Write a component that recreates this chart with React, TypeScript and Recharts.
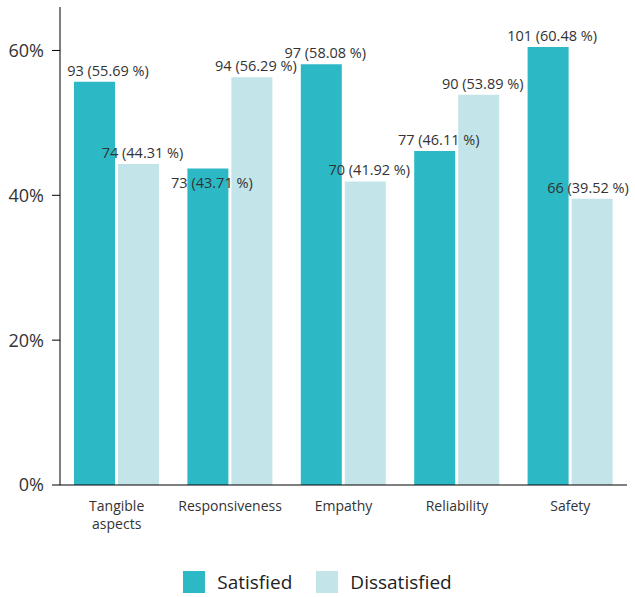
import React from "react";
import {
  BarChart,
  Bar,
  XAxis,
  YAxis,
  Legend,
  LabelList,
  Text
} from "recharts";

const categories = ["Tangible aspects", "Responsiveness", "Empathy", "Reliability", "Safety"];
const satisfiedCount = [93, 73, 97, 77, 101];
const satisfiedPct = [55.69, 43.71, 58.08, 46.11, 60.48];
const dissatisfiedCount = [74, 94, 70, 90, 66];
const dissatisfiedPct = [44.31, 56.29, 41.92, 53.89, 39.52];
const yTicks = [0, 20, 40, 60];

const SAT_COLOR = "#2CB8C4";
const DIS_COLOR = "#C3E4E8";
const FONT = "'Open Sans', 'Noto Sans', sans-serif";

const data = categories.map((name, i) => ({
  name,
  satisfied: satisfiedPct[i],
  dissatisfied: dissatisfiedPct[i],
  satisfiedLabel: `${satisfiedCount[i]} (${satisfiedPct[i].toFixed(2)} %)`,
  dissatisfiedLabel: `${dissatisfiedCount[i]} (${dissatisfiedPct[i].toFixed(2)} %)`
}));

const CategoryTick = ({ x, y, payload }: any) => (
  <Text
    x={x}
    y={y + 8}
    width={90}
    textAnchor="middle"
    verticalAnchor="start"
    fontSize={14}
    fill="#333"
    fontFamily={FONT}
    lineHeight={18}
  >
    {payload.value}
  </Text>
);

// label above the bar; a satisfied label that would sit on the previous
// dissatisfied label is pushed down into its bar instead.
// labels are kept inside the plot horizontally.
const BarLabel = ({ x, y, width, height, value, index, series }: any) => {
  let ty = y - 6;
  if (series === "satisfied" && index > 0) {
    const perUnit = height / satisfiedPct[index];
    const prevTop = y + height - dissatisfiedPct[index - 1] * perUnit;
    if (Math.abs(prevTop - y) < 10) ty = y + 20;
  }
  const halfW = 46;
  const cx = Math.min(Math.max(x + width / 2 + 4, 62 + halfW), 634 - halfW);
  return (
    <text
      x={cx}
      y={ty}
      textAnchor="middle"
      fontSize={14.5}
      fill="#333"
      fontFamily={FONT}
    >
      {value}
    </text>
  );
};

const LegendContent = () => (
  <div
    style={{
      display: "flex",
      justifyContent: "center",
      alignItems: "center",
      fontFamily: FONT,
      fontSize: 19,
      color: "#222"
    }}
  >
    {[
      { label: "Satisfied", color: SAT_COLOR },
      { label: "Dissatisfied", color: DIS_COLOR }
    ].map((item) => (
      <div key={item.label} style={{ display: "flex", alignItems: "center", margin: "0 12px" }}>
        <span style={{ width: 22, height: 22, background: item.color, marginRight: 12 }} />
        <span>{item.label}</span>
      </div>
    ))}
  </div>
);

export default function App() {
  return (
    <div style={{ position: "absolute", left: 0, top: 0, background: "#fff" }}>
      <BarChart
        width={635}
        height={597}
        data={data}
        margin={{ top: 7, right: 8, left: 0, bottom: 10 }}
        barGap={3}
        barCategoryGap={14}
      >
        <XAxis
          dataKey="name"
          tick={<CategoryTick />}
          tickLine={false}
          axisLine={{ stroke: "#000" }}
          interval={0}
          height={50}
        />
        <YAxis
          domain={[0, 66]}
          ticks={yTicks}
          tickFormatter={(v: number) => `${v}%`}
          tick={{ fontSize: 18, fill: "#333", fontFamily: FONT, dx: -6 }}
          tickLine={{ stroke: "#000" }}
          tickSize={8}
          axisLine={{ stroke: "#000" }}
          width={60}
        />
        <Legend
          verticalAlign="bottom"
          height={52}
          content={<LegendContent />}
          wrapperStyle={{ top: 569, left: 0, width: 635 }}
        />
        <Bar dataKey="satisfied" fill={SAT_COLOR} isAnimationActive={false}>
          <LabelList dataKey="satisfiedLabel" content={<BarLabel series="satisfied" />} />
        </Bar>
        <Bar dataKey="dissatisfied" fill={DIS_COLOR} isAnimationActive={false}>
          <LabelList dataKey="dissatisfiedLabel" content={<BarLabel series="dissatisfied" />} />
        </Bar>
      </BarChart>
    </div>
  );
}
